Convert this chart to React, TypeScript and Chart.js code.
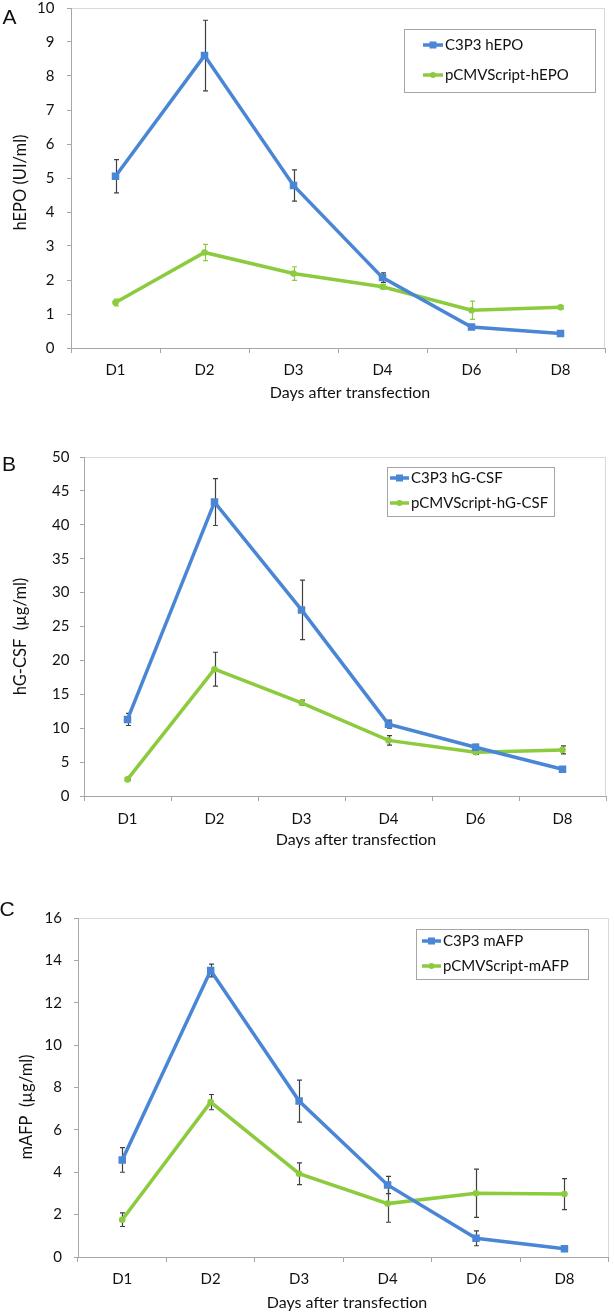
import React, { useEffect, useRef } from 'react';
import { Chart, registerables } from 'chart.js';

Chart.register(...registerables);

// ---------- data ----------
const DAYS = ['D1', 'D2', 'D3', 'D4', 'D6', 'D8'];

const EPO_C3P3 = [5.05, 8.6, 4.78, 2.07, 0.62, 0.43];
const EPO_C3P3_ERR = [0.49, 1.04, 0.46, 0.14, 0.05, 0.04];
const EPO_PCMV = [1.34, 2.81, 2.19, 1.8, 1.11, 1.2];
const EPO_PCMV_ERR = [0.1, 0.24, 0.2, 0.07, 0.27, 0.05];

const GCSF_C3P3 = [11.3, 43.35, 27.45, 10.6, 7.2, 3.95];
const GCSF_C3P3_ERR = [0.9, 3.45, 4.4, 0.6, 0.4, 0.2];
const GCSF_PCMV = [2.45, 18.7, 13.75, 8.2, 6.45, 6.8];
const GCSF_PCMV_ERR = [0.15, 2.5, 0.4, 0.7, 0.3, 0.6];

const AFP_C3P3 = [4.58, 13.52, 7.36, 3.4, 0.88, 0.39];
const AFP_C3P3_ERR = [0.58, 0.3, 0.99, 0.41, 0.35, 0.05];
const AFP_PCMV = [1.76, 7.31, 3.93, 2.52, 3.01, 2.97];
const AFP_PCMV_ERR = [0.32, 0.36, 0.51, 0.88, 1.14, 0.73];

const Y_MAX_A = 10;
const Y_STEP_A = 1;
const Y_MAX_B = 50;
const Y_STEP_B = 5;
const Y_MAX_C = 16;
const Y_STEP_C = 2;

const X_TITLE = 'Days after transfection';

// ---------- styles ----------
const BLUE = '#4A86D6';
const GREEN = '#8CCB3E';
const ERR_GRAY = '#404040';
const AXIS = '#A6A6A6';
const FRAME = '#D9D9D9';
const TEXT = '#111111';
const FONT = 'Lato, "Open Sans", sans-serif';
const FONT_SIZE = 15;
const X_TITLE_SIZE = 16;
const Y_TITLE_SIZE = 16.5;
const PAGE_W = 614;

type Layout = {
  top: number;
  height: number;
  area: { l: number; t: number; r: number; b: number };
  xLabelCenter: number;
  yLabelRight: number;
  yTitle: [number, number];
  xTitle: [number, number];
  letter: [number, number];
  legend: { l: number; t: number; r: number; b: number; rows: number[]; sample: [number, number]; textX: number };
};

const LAYOUT_A: Layout = {
  top: 0,
  height: 430,
  area: { l: 71, t: 8, r: 605, b: 348 },
  xLabelCenter: 370,
  yLabelRight: 54.5,
  yTitle: [21, 182.5],
  xTitle: [350, 392.5],
  letter: [9.5, 18],
  legend: { l: 404, t: 29, r: 595, b: 92, rows: [45, 75], sample: [423, 443], textX: 445 },
};

const LAYOUT_B: Layout = {
  top: 430,
  height: 430,
  area: { l: 84, t: 457, r: 606, b: 796 },
  xLabelCenter: 819,
  yLabelRight: 69.5,
  yTitle: [21, 636.5],
  xTitle: [356, 840],
  letter: [9, 465],
  legend: { l: 387, t: 467, r: 554, b: 516, rows: [478, 503], sample: [390, 409], textX: 411 },
};

const LAYOUT_C: Layout = {
  top: 860,
  height: 454,
  area: { l: 78, t: 918, r: 612, b: 1257 },
  xLabelCenter: 1279,
  yLabelRight: 62,
  yTitle: [26.5, 1107],
  xTitle: [347, 1302.5],
  letter: [7, 910],
  legend: { l: 416, t: 929, r: 588, b: 979, rows: [941, 966], sample: [422, 441], textX: 443 },
};

type Panel = {
  letter: string;
  yTitle: string;
  yMax: number;
  yStep: number;
  labels: [string, string];
  blue: number[];
  blueErr: number[];
  green: number[];
  greenErr: number[];
  greenErrColor: string;
  layout: Layout;
};

const PANELS: Panel[] = [
  {
    letter: 'A',
    yTitle: 'hEPO (UI/ml)',
    yMax: Y_MAX_A,
    yStep: Y_STEP_A,
    labels: ['C3P3 hEPO', 'pCMVScript-hEPO'],
    blue: EPO_C3P3,
    blueErr: EPO_C3P3_ERR,
    green: EPO_PCMV,
    greenErr: EPO_PCMV_ERR,
    greenErrColor: GREEN,
    layout: LAYOUT_A,
  },
  {
    letter: 'B',
    yTitle: 'hG-CSF  (µg/ml)',
    yMax: Y_MAX_B,
    yStep: Y_STEP_B,
    labels: ['C3P3 hG-CSF', 'pCMVScript-hG-CSF'],
    blue: GCSF_C3P3,
    blueErr: GCSF_C3P3_ERR,
    green: GCSF_PCMV,
    greenErr: GCSF_PCMV_ERR,
    greenErrColor: ERR_GRAY,
    layout: LAYOUT_B,
  },
  {
    letter: 'C',
    yTitle: 'mAFP  (µg/ml)',
    yMax: Y_MAX_C,
    yStep: Y_STEP_C,
    labels: ['C3P3 mAFP', 'pCMVScript-mAFP'],
    blue: AFP_C3P3,
    blueErr: AFP_C3P3_ERR,
    green: AFP_PCMV,
    greenErr: AFP_PCMV_ERR,
    greenErrColor: ERR_GRAY,
    layout: LAYOUT_C,
  },
];

const X_AXIS_H = 40;
const X_TICK_LEN = 5;
const Y_TICK_LEN = 4;

const decorPlugin = {
  id: 'panelDecor',
  beforeDraw(chart: any) {
    const { ctx, chartArea: a } = chart;
    ctx.save();
    ctx.strokeStyle = FRAME;
    ctx.lineWidth = 1;
    ctx.strokeRect(
      Math.round(a.left) + 0.5,
      Math.round(a.top) + 0.5,
      Math.round(a.right - a.left) - 1,
      Math.round(a.bottom - a.top)
    );
    ctx.restore();
  },
  beforeDatasetsDraw(chart: any) {
    const { ctx } = chart;
    const yScale = chart.scales.y;
    ctx.save();
    chart.data.datasets.forEach((ds: any, i: number) => {
      const meta = chart.getDatasetMeta(i);
      ctx.strokeStyle = ds.errorColor;
      ctx.lineWidth = 1.2;
      meta.data.forEach((pt: any, j: number) => {
        const v = ds.data[j];
        const e = ds.errors[j];
        const yTop = yScale.getPixelForValue(v + e);
        const yBot = yScale.getPixelForValue(v - e);
        const x = Math.round(pt.x) + 0.5;
        ctx.beginPath();
        ctx.moveTo(x, yTop);
        ctx.lineTo(x, yBot);
        ctx.moveTo(x - 2.5, yTop);
        ctx.lineTo(x + 2.5, yTop);
        ctx.moveTo(x - 2.5, yBot);
        ctx.lineTo(x + 2.5, yBot);
        ctx.stroke();
      });
    });
    ctx.restore();
  },
  afterDraw(chart: any, _args: any, opts: any) {
    const { ctx } = chart;
    const L: Layout = opts.layout;
    const off = L.top;
    ctx.save();
    ctx.fillStyle = TEXT;
    // panel letter
    ctx.font = `21px "Liberation Sans", Arial, sans-serif`;
    ctx.textAlign = 'center';
    ctx.textBaseline = 'middle';
    ctx.fillText(opts.letter, L.letter[0], L.letter[1] - off);
    // x title
    ctx.font = `${X_TITLE_SIZE}px ${FONT}`;
    ctx.fillText(X_TITLE, L.xTitle[0], L.xTitle[1] - off);
    // y title
    ctx.save();
    ctx.font = `${Y_TITLE_SIZE}px ${FONT}`;
    ctx.translate(L.yTitle[0], L.yTitle[1] - off);
    ctx.rotate(-Math.PI / 2);
    ctx.fillText(opts.yTitle, 0, 0);
    ctx.restore();
    // legend
    const g = L.legend;
    ctx.strokeStyle = AXIS;
    ctx.lineWidth = 1;
    ctx.strokeRect(g.l + 0.5, g.t - off + 0.5, g.r - g.l, g.b - g.t);
    chart.data.datasets.forEach((ds: any, i: number) => {
      const y = g.rows[i] - off;
      ctx.strokeStyle = ds.borderColor;
      ctx.lineWidth = 3.5;
      ctx.beginPath();
      ctx.moveTo(g.sample[0], y);
      ctx.lineTo(g.sample[1], y);
      ctx.stroke();
      const mx = (g.sample[0] + g.sample[1]) / 2;
      ctx.fillStyle = ds.borderColor;
      if (ds.pointStyle === 'rect') {
        ctx.fillRect(mx - 3.5, y - 3.5, 7, 7);
      } else {
        ctx.beginPath();
        ctx.arc(mx, y, 3, 0, Math.PI * 2);
        ctx.fill();
      }
      ctx.fillStyle = TEXT;
      ctx.textAlign = 'left';
      ctx.textBaseline = 'middle';
      ctx.font = `${FONT_SIZE}px ${FONT}`;
      ctx.fillText(ds.label, g.textX, y);
    });
    ctx.restore();
  },
};

function zeroPadding(s: any) {
  s.paddingTop = 0;
  s.paddingBottom = 0;
  s.paddingLeft = 0;
  s.paddingRight = 0;
}

function buildChart(canvas: HTMLCanvasElement, p: Panel) {
  const L = p.layout;
  const a = L.area;
  const padTop = a.t - L.top;
  const padRight = PAGE_W - a.r;
  const padBottom = L.height - (a.b - L.top) - X_AXIS_H;
  const xPad = L.xLabelCenter - a.b - X_TICK_LEN - (FONT_SIZE * 1.2) / 2;
  const yPad = a.l - Y_TICK_LEN - L.yLabelRight;
  return new Chart(canvas, {
    type: 'line',
    data: {
      labels: DAYS,
      datasets: [
        {
          label: p.labels[0],
          data: p.blue,
          errors: p.blueErr,
          errorColor: ERR_GRAY,
          borderColor: BLUE,
          backgroundColor: BLUE,
          borderWidth: 3.5,
          pointStyle: 'rect',
          pointRadius: 5.3,
          pointBorderWidth: 0,
          tension: 0,
        } as any,
        {
          label: p.labels[1],
          data: p.green,
          errors: p.greenErr,
          errorColor: p.greenErrColor,
          borderColor: GREEN,
          backgroundColor: GREEN,
          borderWidth: 3.5,
          pointStyle: 'circle',
          pointRadius: 3.3,
          pointBorderWidth: 0,
          tension: 0,
        } as any,
      ],
    },
    options: {
      responsive: false,
      animation: false,
      devicePixelRatio: 1,
      events: [],
      layout: { padding: { left: 0, top: padTop, right: padRight, bottom: padBottom } },
      plugins: {
        legend: { display: false },
        tooltip: { enabled: false },
        title: { display: false },
        panelDecor: { layout: L, letter: p.letter, yTitle: p.yTitle },
      } as any,
      scales: {
        x: {
          type: 'category',
          offset: true,
          grid: {
            offset: true,
            drawOnChartArea: false,
            drawTicks: true,
            tickLength: X_TICK_LEN,
            color: AXIS,
          },
          border: { color: AXIS, width: 1 },
          ticks: {
            padding: xPad,
            color: TEXT,
            maxRotation: 0,
            autoSkip: false,
            font: { family: FONT, size: FONT_SIZE },
          },
          afterFit: (s: any) => {
            s.height = X_AXIS_H;
            zeroPadding(s);
          },
        },
        y: {
          min: 0,
          max: p.yMax,
          grid: {
            drawOnChartArea: false,
            drawTicks: true,
            tickLength: Y_TICK_LEN,
            color: AXIS,
          },
          border: { color: AXIS, width: 1 },
          ticks: {
            stepSize: p.yStep,
            padding: yPad,
            color: TEXT,
            font: { family: FONT, size: FONT_SIZE, lineHeight: 1 },
          },
          afterFit: (s: any) => {
            s.width = a.l;
            zeroPadding(s);
          },
        },
      },
    } as any,
    plugins: [decorPlugin as any],
  });
}

function PanelChart({ panel }: { panel: Panel }) {
  const ref = useRef<HTMLCanvasElement | null>(null);
  useEffect(() => {
    if (!ref.current) return;
    const chart = buildChart(ref.current, panel);
    return () => chart.destroy();
  }, [panel]);
  const L = panel.layout;
  return (
    <canvas
      ref={ref}
      width={PAGE_W}
      height={L.height}
      style={{ position: 'absolute', left: 0, top: L.top, width: PAGE_W, height: L.height }}
    />
  );
}

export default function App() {
  return (
    <div
      style={{
        position: 'absolute',
        left: 0,
        top: 0,
        width: PAGE_W,
        height: 1314,
        background: '#ffffff',
        overflow: 'hidden',
      }}
    >
      {PANELS.map((p) => (
        <PanelChart key={p.letter} panel={p} />
      ))}
    </div>
  );
}
